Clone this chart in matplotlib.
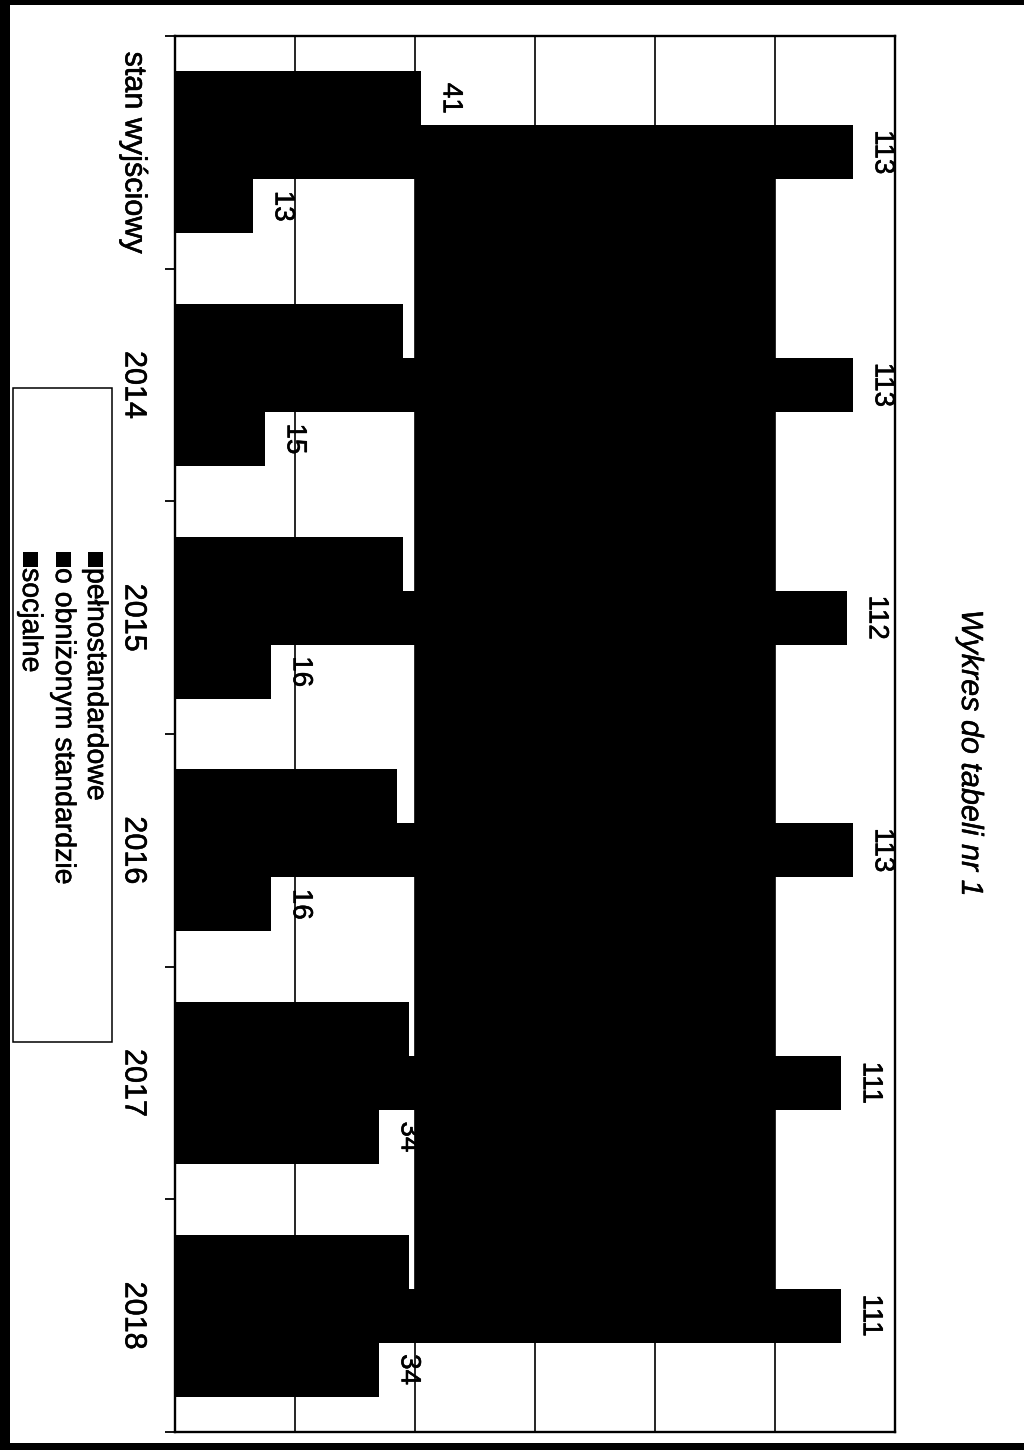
import matplotlib
matplotlib.use('Agg')
import matplotlib.pyplot as plt
import matplotlib.patheffects as pe
import numpy as np
from matplotlib.patches import Rectangle

# ---- data ----
categories = ['stan wyjściowy', '2014', '2015', '2016', '2017', '2018']
series_names = ['pełnostandardowe', 'o obniżonym standardzie', 'socjalne']
pelnostandardowe = [113, 113, 112, 113, 111, 111]
obnizony = [41, 38, 38, 37, 39, 39]
socjalne = [13, 15, 16, 16, 34, 34]
value_ticks = [0, 20, 40, 60, 80, 100, 120]
title = 'Wykres do tabeli nr 1'

plt.rcParams['font.family'] = ['Liberation Sans', 'DejaVu Sans']
heavy = [pe.withStroke(linewidth=0.4, foreground='black')]

W, H = 1024, 1450
fig = plt.figure(figsize=(W / 100, H / 100), dpi=100)
fig.patch.set_facecolor('white')

# page scan border (black strips)
fig.add_artist(Rectangle((0, 0), 10 / W, 1, transform=fig.transFigure, color='black', lw=0))
fig.add_artist(Rectangle((0, 1 - 5 / H), 1, 5 / H, transform=fig.transFigure, color='black', lw=0))
fig.add_artist(Rectangle((0, 0), 1, 7 / H, transform=fig.transFigure, color='black', lw=0))

ax = fig.add_axes([175 / W, 1 - 1432 / H, 720 / W, 1396 / H])

y = np.arange(len(categories))
h = 0.232
ax.barh(y - h, obnizony, height=h, color='black', zorder=3)
ax.barh(y, pelnostandardowe, height=h, color='black', zorder=3)
ax.barh(y + h, socjalne, height=h, color='black', zorder=3)

# dark band of the scanned plot area between gridlines
ax.fill_betweenx([y[0] - h / 2, y[-1] + h / 2], value_ticks[2], value_ticks[5],
                 color='black', lw=0, zorder=2)

ax.set_xlim(value_ticks[0], value_ticks[-1])
ax.set_ylim(len(categories) - 0.5, -0.5)

ax.set_xticks(value_ticks)
ax.tick_params(axis='x', length=0, labelbottom=False)
ax.grid(axis='x', color='black', lw=1.2, zorder=1)
ax.set_axisbelow(True)

ax.set_yticks(y)
ax.set_yticklabels(categories, rotation=-90, fontsize=22, va='center')
for t in ax.get_yticklabels():
    t.set_path_effects(heavy)
ax.tick_params(axis='y', which='major', length=0, pad=19)
ax.set_yticks(np.arange(-0.5, len(categories), 1), minor=True)
ax.tick_params(axis='y', which='minor', length=7, width=1.3, direction='out')

for s in ax.spines.values():
    s.set_linewidth(1.7)
    s.set_color('black')

# data labels
for vals, off in [(obnizony, -h), (pelnostandardowe, 0), (socjalne, h)]:
    for yi, v in zip(y, vals):
        ax.annotate(str(v), xy=(v, yi + off), xytext=(12, 0), textcoords='offset points',
                    rotation=-90, ha='left', va='center', fontsize=20, color='black',
                    zorder=1.5, path_effects=heavy)

# title
fig.text(970 / W, 1 - 753 / H, title, rotation=-90, style='italic', fontsize=22,
         ha='center', va='center', path_effects=[pe.withStroke(linewidth=0.3, foreground='black')])

# legend (rotated, drawn manually)
fig.add_artist(Rectangle((13 / W, 1 - 1042 / H), 99 / W, 654 / H, transform=fig.transFigure,
                         fill=True, facecolor='white', edgecolor='black', lw=1.1))
for name, xc in zip(series_names, [95, 63, 30]):
    fig.add_artist(Rectangle(((xc - 7) / W, 1 - 567 / H), 15 / W, 15 / H,
                             transform=fig.transFigure, color='black', lw=0))
    fig.text(xc / W, 1 - 568 / H, name, rotation=-90, fontsize=20.5,
             ha='center', va='top', path_effects=heavy)

fig.savefig('out.png', dpi=100, facecolor='white')
